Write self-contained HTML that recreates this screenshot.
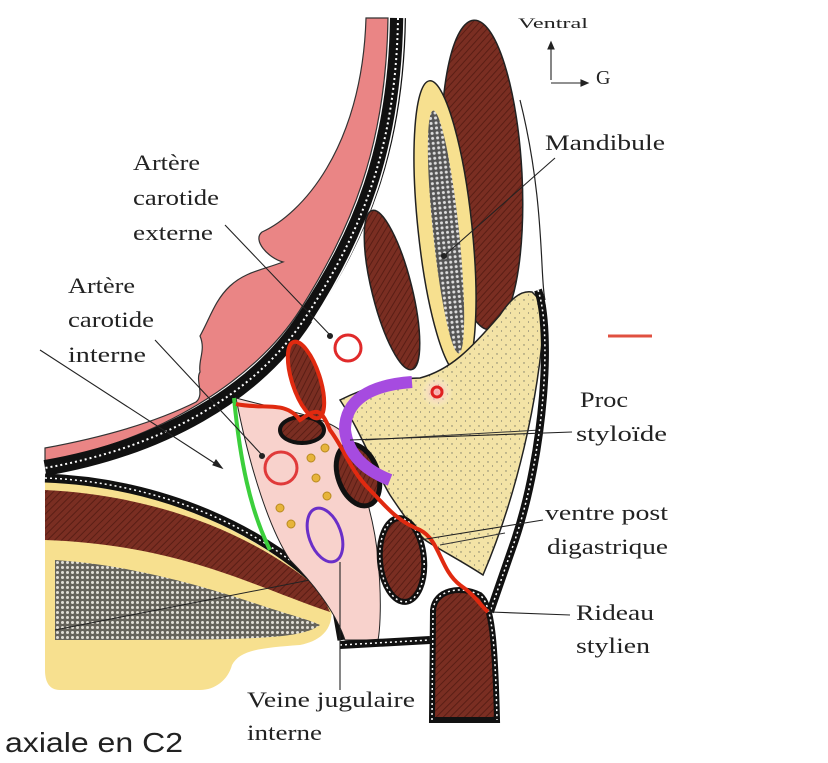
<!DOCTYPE html>
<html><head><meta charset="utf-8"><style>
html,body{margin:0;padding:0;background:#fff;}
svg{display:block}
.t{font-family:"Liberation Serif",serif;fill:#222;}
</style></head><body>
<svg width="828" height="763" viewBox="0 0 828 763" xmlns="http://www.w3.org/2000/svg">
<defs>
<pattern id="hatch" width="5" height="5" patternUnits="userSpaceOnUse" patternTransform="rotate(45)">
<rect width="5" height="5" fill="#7a2e22"/><line x1="0" y1="0" x2="0" y2="5" stroke="#5a1e15" stroke-width="2"/></pattern>
<pattern id="grid" width="5" height="5" patternUnits="userSpaceOnUse">
<rect width="5" height="5" fill="#555"/><circle cx="2.5" cy="2.5" r="1.5" fill="#ddd"/></pattern>
<pattern id="dots" width="9" height="9" patternUnits="userSpaceOnUse">
<rect width="9" height="9" fill="#f3e3a6"/><circle cx="2" cy="3" r="0.7" fill="#776"/><circle cx="6.5" cy="7" r="0.6" fill="#776"/></pattern>
<radialGradient id="glow"><stop offset="0" stop-color="#f7a0a8"/><stop offset="1" stop-color="#fff" stop-opacity="0"/></radialGradient>
</defs>

<!-- pharynx pink -->
<path d="M366,18 L388,18 C386,150 350,230 300,310 C255,380 160,440 45,462 L45,448 C110,436 160,420 196,402 C205,395 195,380 200,372 C198,360 206,350 200,336 C210,318 215,300 230,286 C245,272 262,270 283,262 C268,258 252,240 262,232 C300,215 362,150 366,18Z" fill="#ea8585" stroke="#333" stroke-width="1.2"/>
<path d="M398,18 C396,150 360,235 305,318 C255,395 160,448 45,468" fill="none" stroke="#111" stroke-width="16"/>
<path d="M398,18 C396,150 360,235 305,318 C255,395 160,448 45,468" fill="none" stroke="#fff" stroke-width="2" stroke-dasharray="2 3"/>
<path d="M404,18 C402,150 366,238 312,322" fill="none" stroke="#fff" stroke-width="1.5"/>

<!-- bottom-left mass -->
<path d="M45,480 C150,485 260,530 330,600 C336,625 325,640 300,645 C260,648 240,650 232,665 C228,680 215,690 200,690 L60,690 C48,690 45,680 45,670Z" fill="#f7e08f"/>
<path d="M45,490 C150,495 250,530 320,590 L330,612 C250,585 180,545 45,540Z" fill="url(#hatch)"/>
<path d="M55,560 C130,565 200,585 260,605 C290,615 310,620 320,625 C300,640 250,640 55,640Z" fill="url(#grid)" opacity="0.9"/>
<path d="M45,478 C160,482 270,530 335,600 L342,640" fill="none" stroke="#111" stroke-width="9"/>
<path d="M45,478 C160,482 270,530 335,600" fill="none" stroke="#fff" stroke-width="1.5" stroke-dasharray="2 3"/>
<line x1="55" y1="630" x2="320" y2="578" stroke="#222" stroke-width="1"/>

<!-- mandible muscles -->
<ellipse cx="482" cy="175" rx="40" ry="155" transform="rotate(-3 482 175)" fill="url(#hatch)" stroke="#222" stroke-width="1.5"/>
<ellipse cx="392" cy="290" rx="20" ry="82" transform="rotate(-14 392 290)" fill="url(#hatch)" stroke="#222" stroke-width="1.5"/>
<path d="M520,100 C545,200 540,280 545,300" fill="none" stroke="#222" stroke-width="1.2"/>
<ellipse cx="445" cy="228" rx="27" ry="148" transform="rotate(-6 445 228)" fill="#f7e08f" stroke="#222" stroke-width="1.5"/>
<ellipse cx="446" cy="232" rx="13" ry="122" transform="rotate(-6 446 232)" fill="url(#grid)"/>

<!-- parotid yellow -->
<path d="M340,400 C370,385 400,378 420,378 C450,370 470,350 500,315 C510,300 520,290 532,292 L545,305 C540,400 515,500 483,575 C460,560 440,550 425,540 C410,525 400,510 390,495 C375,470 360,430 340,400Z" fill="url(#dots)" stroke="#222" stroke-width="1.5"/>
<path d="M365,440 L540,430 M440,545 L505,533" stroke="#333" stroke-width="1"/>
<path d="M538,290 C552,330 545,450 515,540 L490,612" fill="none" stroke="#111" stroke-width="8"/>
<path d="M538,290 C552,330 545,450 515,540 L490,612" fill="none" stroke="#fff" stroke-width="1.5" stroke-dasharray="2 3"/>
<circle cx="437" cy="392" r="16" fill="url(#glow)"/>
<circle cx="437" cy="392" r="5" fill="none" stroke="#e02020" stroke-width="3"/>

<!-- pink parapharyngeal space -->
<path d="M236,398 C280,410 320,415 340,430 C360,470 375,520 378,560 C382,600 380,630 378,640 L345,640 C335,610 310,580 290,560 C270,530 250,470 236,398Z" fill="#f8d2cc" stroke="#222" stroke-width="1"/>
<path d="M340,645 L430,640" stroke="#111" stroke-width="8"/>
<path d="M340,645 L430,640" stroke="#fff" stroke-width="1.5" stroke-dasharray="2 3"/>

<!-- brown muscles -->
<ellipse cx="302" cy="430" rx="22" ry="13" fill="url(#hatch)" stroke="#111" stroke-width="4"/>
<ellipse cx="358" cy="475" rx="20" ry="32" transform="rotate(-20 358 475)" fill="url(#hatch)" stroke="#111" stroke-width="5"/>
<ellipse cx="402" cy="560" rx="22" ry="42" transform="rotate(-5 402 560)" fill="url(#hatch)" stroke="#111" stroke-width="6"/>
<ellipse cx="402" cy="560" rx="22" ry="42" transform="rotate(-5 402 560)" fill="none" stroke="#fff" stroke-width="1.5" stroke-dasharray="2 3"/>
<path d="M432,720 L433,610 C435,590 460,585 480,595 C492,605 495,640 497,720Z" fill="url(#hatch)" stroke="#111" stroke-width="6"/>
<path d="M432,720 L433,610 C435,590 460,585 480,595 C492,605 495,640 497,720" fill="none" stroke="#fff" stroke-width="1.5" stroke-dasharray="2 3"/>
<ellipse cx="306" cy="380" rx="14" ry="40" transform="rotate(-18 306 380)" fill="url(#hatch)" stroke="#e02a10" stroke-width="4"/>

<path d="M234,398 C240,460 250,510 270,550" fill="none" stroke="#3ccf3c" stroke-width="4"/>
<path d="M236,404 C265,410 285,400 300,420 C315,410 320,405 330,430 C345,450 350,470 370,490 C385,505 395,520 420,530 C440,540 440,570 460,585 C475,595 480,605 488,612" fill="none" stroke="#e02a10" stroke-width="4"/>
<path d="M412,382 C370,385 345,400 345,430 C348,455 365,470 390,480" fill="none" stroke="#a64be0" stroke-width="12"/>

<circle cx="348" cy="348" r="13" fill="#fff" stroke="#e02a2a" stroke-width="3"/>
<circle cx="281" cy="468" r="16" fill="#f8d2cc" stroke="#e03a3a" stroke-width="3"/>
<ellipse cx="325" cy="535" rx="16" ry="28" transform="rotate(-20 325 535)" fill="#f8d2cc" stroke="#6a2fc8" stroke-width="3"/>
<g fill="#e7b43a" stroke="#b88a20" stroke-width="1">
<circle cx="311" cy="458" r="4"/><circle cx="316" cy="478" r="4"/><circle cx="327" cy="496" r="4"/><circle cx="280" cy="508" r="4"/><circle cx="291" cy="524" r="4"/><circle cx="325" cy="448" r="4"/></g>

<g stroke="#222" stroke-width="1.1" fill="#222">
<line x1="225" y1="225" x2="330" y2="335"/><circle cx="330" cy="336" r="2.5"/>
<line x1="155" y1="340" x2="262" y2="455"/><circle cx="262" cy="456" r="2.5"/>
<line x1="40" y1="350" x2="222" y2="468"/><path d="M222,468 l-6,-8 l-3,5z"/>
<line x1="555" y1="158" x2="445" y2="255"/><circle cx="444" cy="256" r="2.5"/>
<line x1="572" y1="432" x2="350" y2="440"/>
<line x1="543" y1="520" x2="420" y2="540"/>
<line x1="570" y1="615" x2="490" y2="612"/>
<line x1="340" y1="690" x2="340" y2="562"/>
<line x1="551" y1="80" x2="551" y2="45"/><path d="M551,42 l-3,7 l6,0z"/>
<line x1="551" y1="83" x2="583" y2="83"/><path d="M588,83 l-7,-3 l0,6z"/>
</g>
<line x1="608" y1="336" x2="652" y2="336" stroke="#e05040" stroke-width="3"/>

<g class="t" font-size="22">
<text x="518" y="28" font-size="15" textLength="70" lengthAdjust="spacingAndGlyphs">Ventral</text>
<text x="596" y="84" font-size="20">G</text>
<text x="545" y="150" textLength="120" lengthAdjust="spacingAndGlyphs">Mandibule</text>
<text x="133" y="170" textLength="67" lengthAdjust="spacingAndGlyphs">Artère</text>
<text x="133" y="205" textLength="86" lengthAdjust="spacingAndGlyphs">carotide</text>
<text x="133" y="240" textLength="80" lengthAdjust="spacingAndGlyphs">externe</text>
<text x="68" y="293" textLength="67" lengthAdjust="spacingAndGlyphs">Artère</text>
<text x="68" y="327" textLength="86" lengthAdjust="spacingAndGlyphs">carotide</text>
<text x="68" y="362" textLength="78" lengthAdjust="spacingAndGlyphs">interne</text>
<text x="580" y="407" textLength="48" lengthAdjust="spacingAndGlyphs">Proc</text>
<text x="576" y="441" textLength="91" lengthAdjust="spacingAndGlyphs">styloïde</text>
<text x="545" y="520" textLength="123" lengthAdjust="spacingAndGlyphs">ventre post</text>
<text x="547" y="554" textLength="121" lengthAdjust="spacingAndGlyphs">digastrique</text>
<text x="576" y="620" textLength="78" lengthAdjust="spacingAndGlyphs">Rideau</text>
<text x="576" y="653" textLength="74" lengthAdjust="spacingAndGlyphs">stylien</text>
<text x="247" y="707" textLength="168" lengthAdjust="spacingAndGlyphs">Veine jugulaire</text>
<text x="247" y="740" textLength="75" lengthAdjust="spacingAndGlyphs">interne</text>
</g>
<text x="5" y="752" font-size="28" font-family="'Liberation Sans',sans-serif" fill="#222" textLength="178" lengthAdjust="spacingAndGlyphs">axiale en C2</text>
</svg>
</body></html>
